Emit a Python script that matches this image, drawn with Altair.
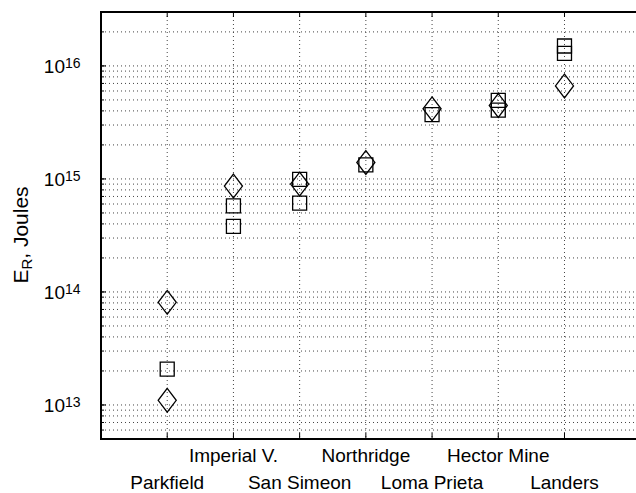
import altair as alt
import pandas as pd

# ---------------- data ----------------
events = ["Parkfield", "Imperial V.", "San Simeon", "Northridge",
          "Loma Prieta", "Hector Mine", "Landers"]
event_pos = [1, 2, 3, 4, 5, 6, 7]
label_row = [2, 1, 2, 1, 2, 1, 2]          # 1 = upper label row, 2 = lower row

square_event = ["Parkfield", "Imperial V.", "Imperial V.", "San Simeon", "San Simeon",
                "Northridge", "Loma Prieta", "Hector Mine", "Hector Mine",
                "Landers", "Landers"]
square_energy = [2.08e13, 5.77e14, 3.80e14, 9.9e14, 6.12e14,
                 1.33e15, 3.70e15, 4.95e15, 4.07e15, 1.50e16, 1.29e16]

diamond_event = ["Parkfield", "Parkfield", "Imperial V.", "San Simeon", "Northridge",
                 "Loma Prieta", "Hector Mine", "Landers"]
diamond_energy = [8.09e13, 1.10e13, 8.65e14, 9.0e14, 1.40e15, 4.17e15, 4.47e15, 6.65e15]

decade_values = [1e13, 1e14, 1e15, 1e16]
decade_exponents = ["13", "14", "15", "16"]

grid_values = [5e12, 6e12, 7e12, 8e12, 9e12,
               1e13, 2e13, 3e13, 4e13, 5e13, 6e13, 7e13, 8e13, 9e13,
               1e14, 2e14, 3e14, 4e14, 5e14, 6e14, 7e14, 8e14, 9e14,
               1e15, 2e15, 3e15, 4e15, 5e15, 6e15, 7e15, 8e15, 9e15,
               1e16, 2e16, 3e16]

# ---------------- tables ----------------
pos_of = dict(zip(events, event_pos))
ev_df = pd.DataFrame({"name": events, "pos": event_pos, "row": label_row})
sq_df = pd.DataFrame({"event": square_event, "E": square_energy,
                      "pos": [pos_of[e] for e in square_event]})
di_df = pd.DataFrame({"event": diamond_event, "E": diamond_energy,
                      "pos": [pos_of[e] for e in diamond_event]})
dec_df = pd.DataFrame({"v": decade_values, "exp": decade_exponents})
grid_df = pd.DataFrame({"v": grid_values})
one = pd.DataFrame({"a": [0]})

# ---------------- layout ----------------
W, H = 535, 427
FONT = "Liberation Sans"
xs = alt.Scale(domain=[0, 8.08], nice=False, zero=False)
ys = alt.Scale(type="log", domain=[5e12, 3e16], nice=False)
GRID_COLOR = "#444444"

X = lambda f: alt.X(f, type="quantitative", scale=xs, axis=None)
Y = lambda f: alt.Y(f, type="quantitative", scale=ys, axis=None)

grid_h = alt.Chart(grid_df).mark_rule(color=GRID_COLOR, strokeWidth=1, strokeDash=[1, 3]).encode(
    y=Y("v"), x=alt.value(0), x2=alt.value(W))
grid_v = alt.Chart(ev_df).mark_rule(color=GRID_COLOR, strokeWidth=1, strokeDash=[1, 3]).encode(
    x=X("pos"), y=alt.value(0), y2=alt.value(H))

tick_bottom = alt.Chart(ev_df).mark_rule(color="black", strokeWidth=1).encode(
    x=X("pos"), y=alt.value(H), y2=alt.value(H - 6))
tick_top = alt.Chart(ev_df).mark_rule(color="black", strokeWidth=1).encode(
    x=X("pos"), y=alt.value(0), y2=alt.value(5))
tick_left = alt.Chart(dec_df).mark_rule(color="black", strokeWidth=1).encode(
    y=Y("v"), x=alt.value(0), x2=alt.value(5))
tick_left_minor = alt.Chart(grid_df).mark_rule(color="black", strokeWidth=1).encode(
    y=Y("v"), x=alt.value(0), x2=alt.value(3))

frame_left = alt.Chart(one).mark_rule(color="black", strokeWidth=2).encode(
    x=alt.value(0), y=alt.value(0), y2=alt.value(H))
frame_top = alt.Chart(one).mark_rule(color="black", strokeWidth=2).encode(
    x=alt.value(-1), x2=alt.value(W), y=alt.value(0))
frame_bottom = alt.Chart(one).mark_rule(color="black", strokeWidth=2).encode(
    x=alt.value(-1), x2=alt.value(W), y=alt.value(H))

squares = alt.Chart(sq_df).mark_point(shape="square", filled=False, size=196,
                                      strokeWidth=1.3, color="black", opacity=1).encode(
    x=X("pos"), y=Y("E"))
DIAMOND = "M0,-1L0.76,0L0,1L-0.76,0Z"
diamonds = alt.Chart(di_df).mark_point(shape=DIAMOND, filled=False, size=566,
                                       strokeWidth=1.3, color="black", opacity=1).encode(
    x=X("pos"), y=Y("E"))

ylab_base = alt.Chart(dec_df).mark_text(text="10", align="right", baseline="alphabetic",
                                        fontSize=19, font=FONT, dy=7, color="black").encode(
    y=Y("v"), x=alt.value(-36))
ylab_exp = alt.Chart(dec_df).mark_text(align="left", baseline="alphabetic",
                                       fontSize=14, font=FONT, dy=2.5, color="black").encode(
    y=Y("v"), x=alt.value(-36), text="exp:N")

xlab_up = alt.Chart(ev_df).transform_filter("datum.row == 1").mark_text(
    align="center", baseline="alphabetic", fontSize=19, font=FONT, color="black").encode(
    x=X("pos"), y=alt.value(H + 23), text="name:N")
xlab_low = alt.Chart(ev_df).transform_filter("datum.row == 2").mark_text(
    align="center", baseline="alphabetic", fontSize=19, font=FONT, color="black").encode(
    x=X("pos"), y=alt.value(H + 50), text="name:N")

# y title  E_R, Joules  (rotated)
TF = 21
t0 = 271.6
title_E = alt.Chart(one).mark_text(text="E", angle=270, align="left", baseline="alphabetic",
                                   fontSize=TF, font=FONT, color="black").encode(
    x=alt.value(-72.7), y=alt.value(t0))
title_R = alt.Chart(one).mark_text(text="R", angle=270, align="left", baseline="alphabetic",
                                   fontSize=15, font=FONT, color="black").encode(
    x=alt.value(-69.0), y=alt.value(t0 - 0.667 * TF))
title_rest = alt.Chart(one).mark_text(text=", Joules", angle=270, align="left", baseline="alphabetic",
                                      fontSize=TF, font=FONT, color="black").encode(
    x=alt.value(-72.7), y=alt.value(t0 - 0.667 * TF - 0.722 * 15))

chart = alt.layer(
    grid_h, grid_v, tick_left_minor, tick_left, tick_bottom, tick_top,
    frame_left, frame_top, frame_bottom,
    squares, diamonds,
    ylab_base, ylab_exp, xlab_up, xlab_low,
    title_E, title_R, title_rest,
).properties(
    width=W, height=H,
    autosize=alt.AutoSizeParams(type="none"),
    padding={"left": 101, "top": 12, "right": 0, "bottom": 54},
    background="white",
).configure_view(stroke=None)

chart.save("out.html", embed_options={"renderer": "svg", "actions": False})
